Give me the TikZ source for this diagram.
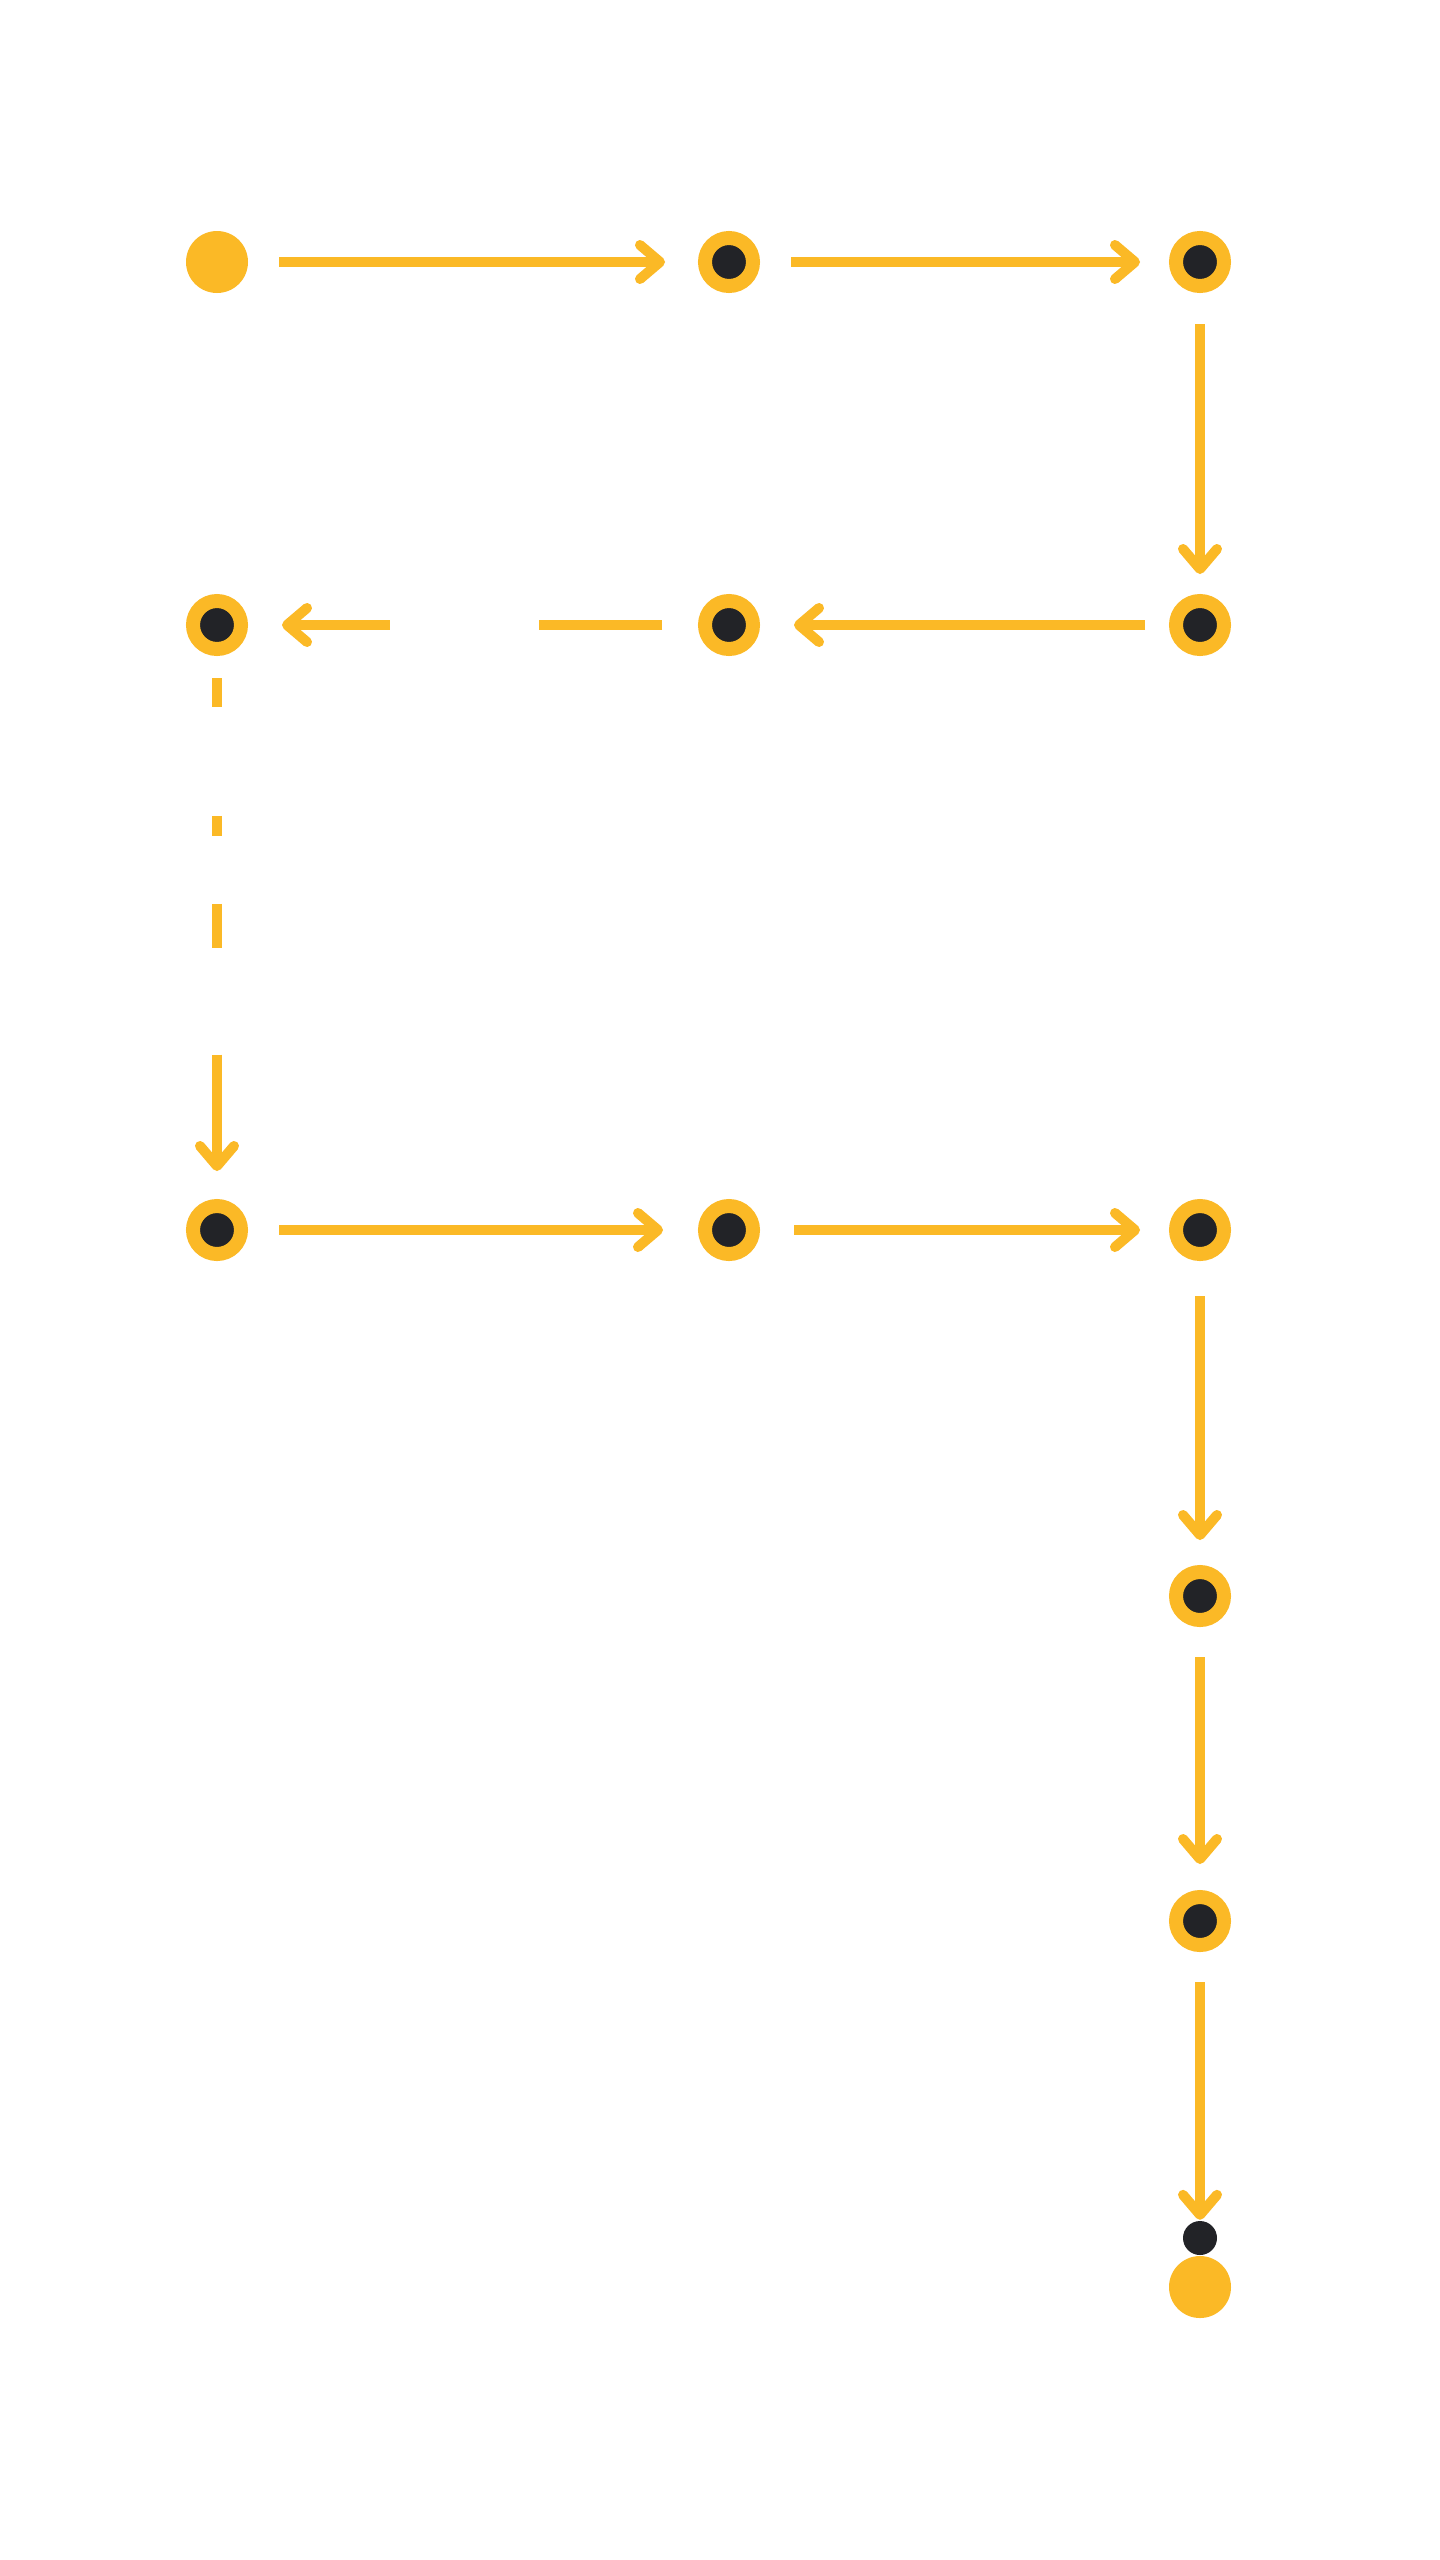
\documentclass[tikz,border=0pt]{standalone}
\usepackage{fontspec}
\newfontfamily\lblfont{Poppins}[FakeStretch=0.9]
\usetikzlibrary{arrows.meta,calc}
\definecolor{gold}{HTML}{FBB926}
\definecolor{ink}{HTML}{222327}
\colorlet{lbltext}{white}
\newcommand\lblsize[1]{\lblfont\bfseries\fontsize{53}{#1}\selectfont\lineskiplimit-100pt\relax}
\tikzset{
  ringdot/.style={circle, draw=gold, fill=ink, line width=14pt, minimum size=48pt, inner sep=0pt},
  filldot/.style={circle, fill=gold, minimum size=62pt, inner sep=0pt},
  lbl/.style={text=lbltext, font={\lblsize{#1}}, align=center, inner sep=0pt, anchor=base},
  lbl/.default=48,
  link/.style={draw=gold, line width=10pt},
  flow/.style={link, -{Straight Barb[length=20pt,width=34pt,round]}},
}
\begin{document}
\begin{tikzpicture}[x=1pt, y=-1pt]
    \fill[white] (0,0) rectangle (1440,2560);
    \useasboundingbox (0,0) rectangle (1440,2560);

    % stops
    \node[filldot] (tec) at (217,262) {};
    \node[ringdot] (grad) at (729,262) {};
    \node[ringdot] (fin) at (1200,262) {};
    \node[ringdot] (posest) at (1200,625) {};
    \node[ringdot] (cons) at (729,625) {};
    \node[ringdot] (cont) at (217,625) {};
    \node[ringdot] (foto) at (217,1230) {};
    \node[ringdot] (posmkt) at (729,1230) {};
    \node[ringdot] (mentor) at (1200,1230) {};
    \node[ringdot] (posedu) at (1200,1596) {};
    \node[ringdot] (posneuro) at (1200,1921) {};
    \node[circle, fill=ink, minimum size=34pt, inner sep=0pt] (enddot) at (1200,2238) {};
    \node[filldot] (endcap) at (1200,2287) {};

    % labels (anchored on the last line)
    \node[lbl=47] (ltec) at (219,203) {Técnico em\\Marketing};
    \node[lbl=49] (lgrad) at (732,215) {Graduação em\\Administração\\(UFES)};
    \node[lbl] (lfin) at (1203,212) {Gestor\\Financeiro e\\Administrativo};
    \node[lbl=45] (lcont) at (215,564) {Gestor de\\Conteúdo};
    \node[lbl] (lcons) at (732,569) {Consultor de Negócios\\e Marketing};
    \node[lbl] (ceo) at (465,639) {CEO};
    \node[lbl=43] (lageo) at (464,730) {Agência de\\Mkt};
    \node[lbl=49] (lposest) at (1205,812) {Pós-graduação\\em Gestão\\Estratégica};
    \node[lbl=43] (traf) at (217,799) {Gestor de\\Tráfego};
    \node[lbl] (art) at (217,885) {Artdesigner};
    \node[lbl=44] (dev) at (217,1039) {Desenvolvedor\\de sites};
    \node[lbl] (lmentor) at (1203,1168) {Mentor em\\Marketing\\e Gestão};
    \node[lbl=42] (lfoto) at (219,1361) {Fotógrafo e\\Videomaker};
    \node[lbl] (lposmkt) at (730,1416) {Pós-graduação\\em Gestão de\\Marketing (UFRJ)};
    \node[lbl=51, align=left, anchor=base west] (lposedu) at (557,1633) {Pós-graduação\\em Gestão Educacional};
    \node[lbl=51, align=left, anchor=base west] (lposneuro) at (557,1958) {Pós-graduação\\em Neuromarketing};
    \node[lbl=52, align=left, anchor=base west] (lend) at (557,2346) {Pós-graduação\\em Big Data, Learn AI\\e Machine Learning};

    % connectors
    \draw[flow, shorten <=31pt, shorten >=33pt] (tec) -- (grad);
    \draw[flow, shorten <=31pt, shorten >=29pt] (grad) -- (fin);
    \draw[flow, shorten <=31pt, shorten >=20pt] (fin) -- (posest);
    \draw[flow, shorten <=24pt, shorten >=34pt] (posest) -- (cons);
    \draw[link, shorten <=36pt, shorten >=24pt] (cons) -- (ceo.east |- cons);
    \draw[flow, shorten <=25pt, shorten >=34pt] (ceo.west |- cont) -- (cont);
    \draw[link, shorten <=22pt, shorten >=10pt] (cont) -- (traf);
    \draw[link, shorten <=2pt, shorten >=6pt] (traf) -- (art);
    \draw[link, shorten <=4pt, shorten >=8pt] (art) -- (dev);
    \draw[flow, shorten <=15pt, shorten >=28pt] (dev) -- (foto);
    \draw[flow, shorten <=31pt, shorten >=35pt] (foto) -- (posmkt);
    \draw[flow, shorten <=34pt, shorten >=29pt] (posmkt) -- (mentor);
    \draw[flow, shorten <=35pt, shorten >=25pt] (mentor) -- (posedu);
    \draw[flow, shorten <=30pt, shorten >=26pt] (posedu) -- (posneuro);
    \draw[flow, shorten <=30pt, shorten >=1pt] (posneuro) -- (enddot);
\end{tikzpicture}
\end{document}
